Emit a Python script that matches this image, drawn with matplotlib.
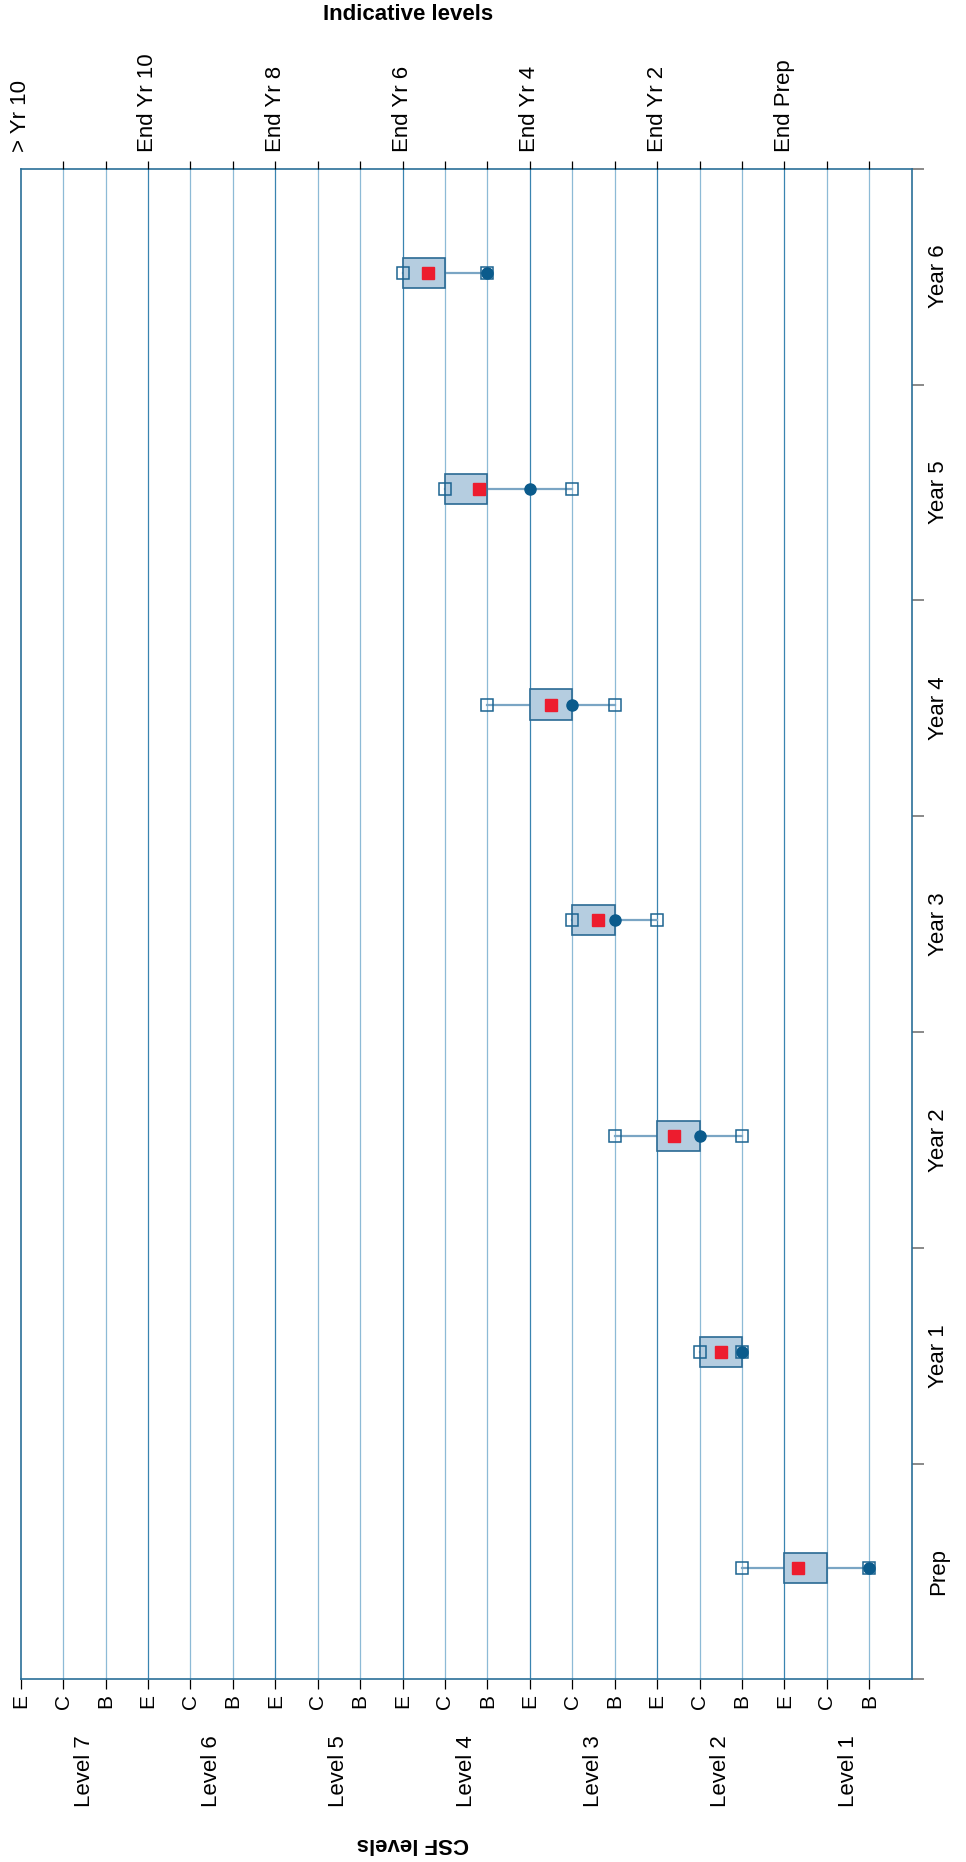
import matplotlib.pyplot as plt
from matplotlib.patches import Rectangle
from matplotlib.transforms import blended_transform_factory

plt.rcParams['font.family'] = ['Liberation Sans', 'DejaVu Sans']

# CSF scale: 1 = Level 1 B, 2 = Level 1 C, 3 = Level 1 E, ... 21 = Level 7 E
years = ['Prep', 'Year 1', 'Year 2', 'Year 3', 'Year 4', 'Year 5', 'Year 6']
whisker_low = [1, 4, 4, 6, 7, 8, 10]
whisker_high = [4, 5, 7, 8, 10, 11, 12]
box_low = [2, 4, 5, 7, 8, 10, 11]
box_high = [3, 5, 6, 8, 9, 11, 12]
mean_level = [2.67, 4.5, 5.6, 7.4, 8.5, 10.2, 11.4]
median_level = [1, 4, 5, 7, 8, 9, 10]

sub_labels = ['B', 'C', 'E'] * 7
level_names = ['Level 1', 'Level 2', 'Level 3', 'Level 4', 'Level 5', 'Level 6', 'Level 7']
indicative = ['End Prep', 'End Yr 2', 'End Yr 4', 'End Yr 6', 'End Yr 8', 'End Yr 10', '> Yr 10']

major_col = '#3a84b0'
minor_col = '#8dbad6'
frame_col = '#2a6f98'

fig = plt.figure(figsize=(9.66, 18.62), dpi=100)
ax = fig.add_axes([0.0214, 0.0981, 0.9224, 0.8113])
ax.set_xlim(21, 0)
ax.set_ylim(-0.5, 6.5)

# vertical grid, darker on the E (end of level) lines
for v in range(1, 21):
    ax.axvline(v, color=major_col if v % 3 == 0 else minor_col, lw=0.9, zorder=1)

ypos = list(range(len(years)))
mark_y = [i + 0.017 for i in ypos]   # marks sit a touch above the category centre
for i, y in enumerate(mark_y):
    ax.plot([whisker_low[i], whisker_high[i]], [y, y], color='#7aa5c4', lw=1.6, zorder=2)
    ax.add_patch(Rectangle((box_low[i], y - 0.07), box_high[i] - box_low[i], 0.14,
                           facecolor='#b5cde0', edgecolor='#2a6a94', lw=1.2, zorder=3))
ax.plot(whisker_low, mark_y, 's', mfc='none', mec='#1d6491', ms=8, mew=1.1, ls='none', zorder=4)
ax.plot(whisker_high, mark_y, 's', mfc='none', mec='#1d6491', ms=8, mew=1.1, ls='none', zorder=4)
ax.plot(mean_level, mark_y, 's', color='#ed1c2e', ms=8.5, ls='none', zorder=5)
ax.plot(median_level, mark_y, 'o', color='#0b5b8c', ms=8, ls='none', zorder=6)

for s in ax.spines.values():
    s.set_color(frame_col)
    s.set_linewidth(1.2)
    s.set_zorder(7)

# bottom axis: B / C / E sub-levels
ax.set_xticks(range(1, 22))
ax.set_xticklabels(sub_labels, rotation=90, fontsize=15)
ax.tick_params(axis='x', length=7.2, width=0.9, pad=3.5)
for t, v in zip(ax.xaxis.get_major_ticks(), range(1, 22)):
    t.tick1line.set_color(major_col if v % 3 == 0 else minor_col)
    if v == 21:
        t.tick1line.set_visible(False)

# top axis: indicative levels
ax2 = ax.twiny()
ax2.set_xlim(ax.get_xlim())
ax2.set_xticks(range(1, 22))
top_labels = [indicative[v // 3 - 1] if v % 3 == 0 else '' for v in range(1, 22)]
ax2.set_xticklabels(top_labels, rotation=90, fontsize=16)
ax2.tick_params(axis='x', length=5.8, width=0.9, pad=6.3)
for t, v in zip(ax2.xaxis.get_major_ticks(), range(1, 22)):
    t.tick2line.set_color(major_col if v % 3 == 0 else minor_col)
    if v == 21:
        t.tick2line.set_visible(False)
for s in ax2.spines.values():
    s.set_visible(False)

# year categories on the right
ax.yaxis.tick_right()
ax.set_yticks(ypos)
ax.set_yticklabels(years, rotation=90, fontsize=16, va='center')
ax.set_yticks([i - 0.5 for i in range(len(years) + 1)], minor=True)
ax.tick_params(axis='y', which='major', length=0, pad=11.5, left=False, right=False)
ax.tick_params(axis='y', which='minor', length=8.6, width=1.3, color='#808080',
               left=False, right=True, direction='out')

# level names under the sub-level letters
tr = blended_transform_factory(ax.transData, ax.transAxes)
for i, name in enumerate(level_names):
    ax.text(3 * i + 1.5, -0.0607, name, transform=tr, rotation=90,
            ha='center', va='center', fontsize=16)

fig.text(408 / 966, 1 - 14 / 1862, 'Indicative levels', ha='center', va='center',
         fontsize=16, fontweight='bold')
fig.text(413 / 966, 1 - 1843 / 1862, 'CSF levels', ha='center', va='center',
         rotation=180, fontsize=16, fontweight='bold')

fig.savefig('out.png', dpi=100)
